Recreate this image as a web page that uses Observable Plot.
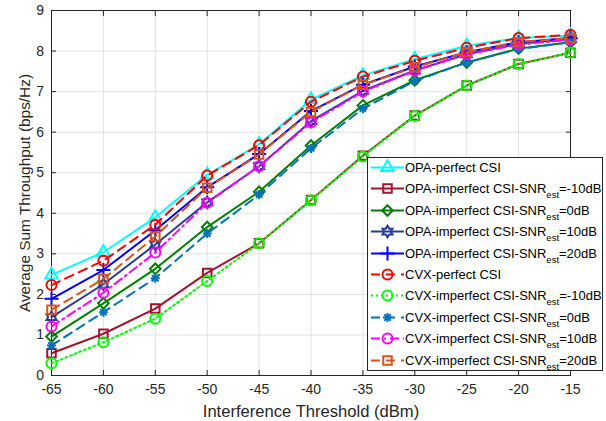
<!DOCTYPE html>
<html>
<head>
<meta charset="utf-8">
<script src="https://cdn.jsdelivr.net/npm/d3@7"></script>
<script src="https://cdn.jsdelivr.net/npm/@observablehq/plot@0.6"></script>
<style>
  html, body { margin: 0; padding: 0; background: #fff; }
  #wrap { position: relative; width: 606px; height: 421px; font-family: "Liberation Sans", Arial, sans-serif; }
  #legend { position: absolute; left: 367px; top: 157px; width: 236px; height: 214px; border: 1px solid #262626; background: #fff; box-sizing: border-box; }
  .row { position: absolute; left: 0; height: 21px; width: 100%; }
  .row svg { position: absolute; left: 2px; top: 0; }
  .row span.t { position: absolute; left: 37px; top: 2px; font-size: 13px; color: #000; white-space: nowrap; line-height: 16px; }
  .row sub { font-size: 9.5px; vertical-align: -5px; line-height: 0; }
</style>
</head>
<body>
<div id="wrap"><div id="chart"></div><div id="legend"></div></div>
<script>
// ---- data ----
const thresholds = [-65, -60, -55, -50, -45, -40, -35, -30, -25, -20, -15];
const opaPerfect = [2.48, 3.04, 3.9, 4.95, 5.7, 6.8, 7.4, 7.8, 8.13, 8.32, 8.38];
const opaM10     = [0.55, 1.03, 1.65, 2.53, 3.26, 4.33, 5.42, 6.41, 7.15, 7.68, 7.96];
const opa0       = [0.96, 1.78, 2.63, 3.66, 4.53, 5.67, 6.66, 7.28, 7.72, 8.06, 8.22];
const opa10      = [1.44, 2.25, 3.23, 4.27, 5.16, 6.27, 7.02, 7.52, 7.92, 8.18, 8.3];
const opa20      = [1.89, 2.6, 3.58, 4.64, 5.46, 6.52, 7.17, 7.62, 7.97, 8.22, 8.32];
const cvxPerfect = [2.23, 2.83, 3.72, 4.93, 5.68, 6.75, 7.37, 7.76, 8.08, 8.32, 8.4];
const cvxM10     = [0.3, 0.82, 1.4, 2.33, 3.26, 4.32, 5.4, 6.4, 7.15, 7.68, 7.96];
const cvx0       = [0.74, 1.56, 2.4, 3.5, 4.46, 5.6, 6.58, 7.26, 7.72, 8.05, 8.22];
const cvx10      = [1.21, 2.04, 3.03, 4.26, 5.16, 6.24, 7.0, 7.52, 7.92, 8.16, 8.28];
const cvx20      = [1.62, 2.38, 3.43, 4.63, 5.45, 6.5, 7.17, 7.6, 7.97, 8.22, 8.32];
const xTicks = [-65, -60, -55, -50, -45, -40, -35, -30, -25, -20, -15];
const yTicks = [0, 1, 2, 3, 4, 5, 6, 7, 8, 9];
const xLabel = "Interference Threshold (dBm)";
const yLabel = "Average Sum Throughput (bps/Hz)";

// ---- custom symbols ----
const hexagram = {
  draw(ctx, size) {
    const R = Math.sqrt(size / Math.PI) * 1.25, r = R / Math.sqrt(3);
    for (let i = 0; i < 12; i++) {
      const a = i * Math.PI / 6 - Math.PI / 2, rr = i % 2 ? r : R;
      const x = rr * Math.cos(a), y = rr * Math.sin(a);
      i ? ctx.lineTo(x, y) : ctx.moveTo(x, y);
    }
    ctx.closePath();
  }
};
const star8 = {
  draw(ctx, size) {
    const R = Math.sqrt(size / Math.PI);
    for (let i = 0; i < 4; i++) {
      const a = i * Math.PI / 4;
      ctx.moveTo(R * Math.cos(a), R * Math.sin(a));
      ctx.lineTo(-R * Math.cos(a), -R * Math.sin(a));
    }
  }
};

const series = [
  {values: opaPerfect, label: "OPA-perfect CSI", color: "#00FFFF", symbol: d3.symbolTriangle, dash: null, r: 4.6},
  {values: opaM10, label: ["OPA-imperfect CSI-SNR", "=-10dB"], color: "#A2142F", symbol: d3.symbolSquare, dash: null, r: 4.8},
  {values: opa0, label: ["OPA-imperfect CSI-SNR", "=0dB"], color: "#008000", symbol: d3.symbolDiamond2, dash: null, r: 4.8},
  {values: opa10, label: ["OPA-imperfect CSI-SNR", "=10dB"], color: "#283C96", symbol: hexagram, dash: null, r: 4.6},
  {values: opa20, label: ["OPA-imperfect CSI-SNR", "=20dB"], color: "#0000FF", symbol: d3.symbolPlus, dash: null, r: 4.6},
  {values: cvxPerfect, label: "CVX-perfect CSI", color: "#FF0000", symbol: d3.symbolCircle, dash: "9,6", r: 5},
  {values: cvxM10, label: ["CVX-imperfect CSI-SNR", "=-10dB"], color: "#00FF00", symbol: d3.symbolCircle, dash: "2,3", r: 5},
  {values: cvx0, label: ["CVX-imperfect CSI-SNR", "=0dB"], color: "#0072BD", symbol: star8, dash: "9,6", r: 4.5},
  {values: cvx10, label: ["CVX-imperfect CSI-SNR", "=10dB"], color: "#FF00FF", symbol: d3.symbolCircle, dash: "9,4,2,4", r: 5},
  {values: cvx20, label: ["CVX-imperfect CSI-SNR", "=20dB"], color: "#D95319", symbol: d3.symbolSquare, dash: "9,6", r: 4.8}
];

const marks = [
  Plot.gridX(xTicks, {stroke: "#000", strokeOpacity: 0.11}),
  Plot.gridY(yTicks, {stroke: "#000", strokeOpacity: 0.11}),
  Plot.axisX(xTicks, {anchor: "bottom", tickSize: -5, tickPadding: 14, label: null, fontSize: 14, tickFormat: d => String(d)}),
  Plot.axisX(xTicks, {anchor: "top", tickSize: -5, label: null, tickFormat: () => ""}),
  Plot.axisY(yTicks, {anchor: "left", tickSize: -5, tickPadding: 12.5, label: null, fontSize: 14}),
  Plot.axisY(yTicks, {anchor: "right", tickSize: -5, label: null, tickFormat: () => ""}),
  Plot.frame({stroke: "#262626"}),
  Plot.text([xLabel], {frameAnchor: "bottom", dy: 36, lineAnchor: "middle", textAnchor: "middle", text: d => d, fontSize: 16.6, fill: "#262626"}),
  Plot.text([yLabel], {frameAnchor: "left", dx: -26, rotate: -90, lineAnchor: "middle", textAnchor: "middle", text: d => d, fontSize: 15.4, fill: "#262626"})
];
for (const s of series) {
  marks.push(Plot.line(thresholds, {x: d => d, y: (d, i) => s.values[i], stroke: s.color, strokeWidth: 2, strokeDasharray: s.dash}));
  marks.push(Plot.dot(thresholds, {x: d => d, y: (d, i) => s.values[i], stroke: s.color, fill: "none", strokeWidth: 2, symbol: s.symbol, r: s.r}));
}

const chart = Plot.plot({
  width: 606, height: 421,
  marginLeft: 51, marginRight: 36, marginTop: 10, marginBottom: 46,
  x: {domain: [-65, -15]},
  y: {domain: [0, 9]},
  style: {fontFamily: "'Liberation Sans', Arial, sans-serif", fontSize: "14px", color: "#262626", background: "#fff", overflow: "visible"},
  marks
});
document.getElementById("chart").appendChild(chart);

// ---- legend ----
const legend = document.getElementById("legend");
series.forEach((s, i) => {
  const row = document.createElement("div");
  row.className = "row";
  row.style.top = (i * 21.4) + "px";
  const svgNS = "http://www.w3.org/2000/svg";
  const svg = document.createElementNS(svgNS, "svg");
  svg.setAttribute("width", 36); svg.setAttribute("height", 20);
  const line = document.createElementNS(svgNS, "line");
  line.setAttribute("x1", 1); line.setAttribute("x2", 34); line.setAttribute("y1", 9.5); line.setAttribute("y2", 9.5);
  line.setAttribute("stroke", s.color); line.setAttribute("stroke-width", 2);
  if (s.dash) line.setAttribute("stroke-dasharray", s.dash);
  svg.appendChild(line);
  const p = document.createElementNS(svgNS, "path");
  p.setAttribute("d", d3.symbol(s.symbol, Math.PI * s.r * s.r)());
  p.setAttribute("transform", "translate(17.5,9.5)");
  p.setAttribute("fill", "none"); p.setAttribute("stroke", s.color); p.setAttribute("stroke-width", 2);
  svg.appendChild(p);
  row.appendChild(svg);
  const t = document.createElement("span");
  t.className = "t";
  if (Array.isArray(s.label)) t.innerHTML = s.label[0] + "<sub>est</sub>" + s.label[1];
  else t.textContent = s.label;
  row.appendChild(t);
  legend.appendChild(row);
});
</script>
</body>
</html>
